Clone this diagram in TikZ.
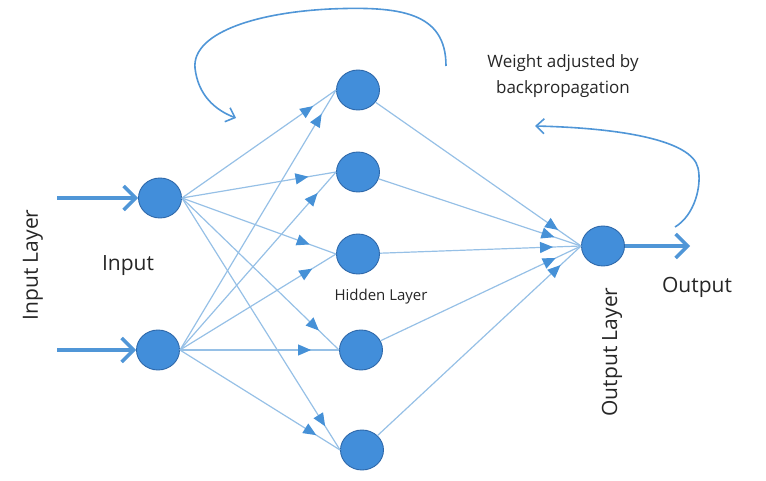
\documentclass[tikz,border=0pt]{standalone}
\usepackage{fontspec}
\setmainfont{Open Sans}
\usetikzlibrary{arrows.meta,decorations.markings,shapes.geometric}
\definecolor{nodeblue}{RGB}{66,142,218}
\definecolor{nodeline}{RGB}{46,104,170}
\definecolor{edgeblue}{RGB}{150,192,230}
\definecolor{tipblue}{RGB}{70,145,215}
\definecolor{arrowblue}{RGB}{80,150,215}
\begin{document}
\begin{tikzpicture}[x=1pt,y=-1pt,
    neuron/.style={ellipse,draw=nodeline,fill=nodeblue,line width=0.9pt,
        minimum width=43pt,minimum height=40pt,inner sep=0pt},
    link/.style={draw=edgeblue,line width=1.2pt,postaction={decorate},
        decoration={markings,mark=at position -28pt with
        {\arrow[color=tipblue]{Triangle[length=13pt,width=11pt]}}}},
    feed/.style={draw=arrowblue,line width=3.5pt,
        -{Straight Barb[length=12pt,width=24pt]}},
    loopback/.style={draw=arrowblue,line width=1.6pt,
        -{Straight Barb[length=8pt,width=15pt]}},
    tag/.style={text=black!85,font=\fontsize{21}{25}\selectfont}
]
    \path[use as bounding box] (0,0) rectangle (766,481);
    % define neurons
    \node[neuron] (in1) at (160,198) {};
    \node[neuron] (in2) at (158,350) {};
    \node[neuron] (h1)  at (358,90)  {};
    \node[neuron] (h2)  at (358,172) {};
    \node[neuron] (h3)  at (358,254) {};
    \node[neuron] (h4)  at (361,350) {};
    \node[neuron] (h5)  at (362,450) {};
    \node[neuron] (out) at (603,246) {};
    % weights
    \foreach \i in {1,2}
        \foreach \h in {1,...,5}
            \draw[link] (in\i.east) -- (h\h.west);
    \foreach \h in {1,...,5}
        \draw[link] (h\h) -- (out.west);
    % input and output arrows
    \coordinate (src1) at (57,198);
    \coordinate (src2) at (57,350);
    \coordinate (dst)  at (690,246);
    \draw[feed] (src1) -- (in1);
    \draw[feed] (src2) -- (in2);
    \draw[feed] (out) -- (dst);
    % backpropagation loops
    \draw[loopback] (446,66) .. controls (446,12) and (400,6) .. (330,9)
        .. controls (250,13) and (192,35) .. (195,68)
        .. controls (198,95) and (215,110) .. (236,118);
    \draw[loopback] (675,227) .. controls (695,215) and (702,185) .. (698,168)
        .. controls (692,140) and (620,128) .. (535,126);
    % labels
    \node[tag] (inlabel) at (128,266) {Input};
    \node[tag,rotate=90] (inlayer) at (33,265) {Input Layer};
    \node[tag,font=\fontsize{15}{18}\selectfont] (hidlabel) at (381,297) {Hidden Layer};
    \node[tag,rotate=90] (outlayer) at (612,352) {Output Layer};
    \node[tag] (outlabel) at (697,287) {Output};
    \node[tag,font=\fontsize{17}{26}\selectfont,align=center] (note) at (563,76)
        {Weight adjusted by\\backpropagation};
\end{tikzpicture}
\end{document}
